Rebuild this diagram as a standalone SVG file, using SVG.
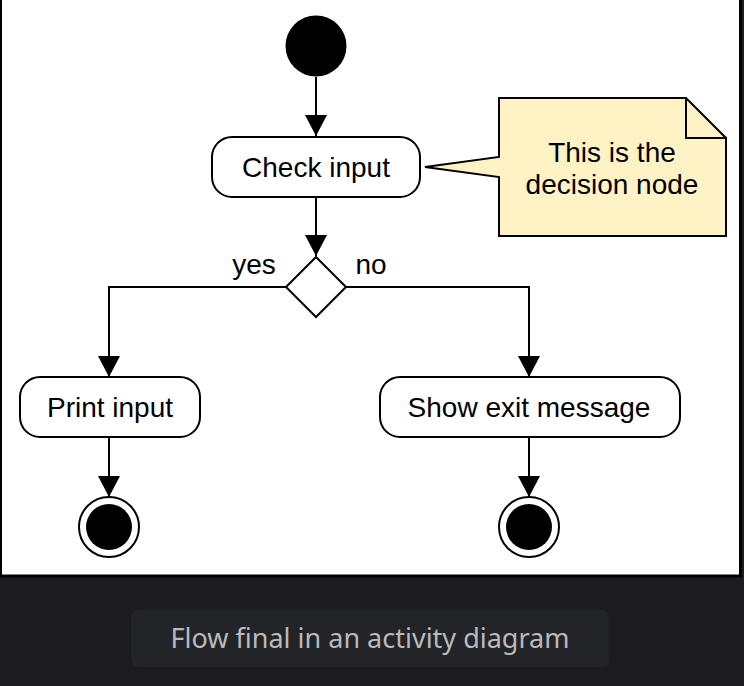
<svg xmlns="http://www.w3.org/2000/svg" width="744" height="686" viewBox="0 0 744 686">
<style>
.lbl{font-family:"Liberation Sans",Arial,sans-serif;font-size:28px;fill:#000;text-anchor:middle}
.box{fill:#fff;stroke:#000;stroke-width:2}
.edge{fill:none;stroke:#000;stroke-width:2}
.cap{font-family:"Noto Sans","Open Sans",sans-serif;font-size:27px;fill:#b9babd;text-anchor:middle}
</style>
<defs>
<marker id="arr" markerWidth="22" markerHeight="22" refX="21" refY="11" orient="auto" markerUnits="userSpaceOnUse">
<path d="M0,0 L21,11 L0,22 Z" fill="#000"/>
</marker>
</defs>
<rect x="0" y="0" width="744" height="686" fill="#1c1c1e"/>
<rect x="0.5" y="-2" width="740" height="578" fill="#fff" stroke="#000" stroke-width="3"/>
<g id="connectors">
<path class="edge" d="M316,77 L316,136" marker-end="url(#arr)"/>
<path class="edge" d="M316,197 L316,256" marker-end="url(#arr)"/>
<path class="edge" d="M286,287 L109,287 L109,377" marker-end="url(#arr)"/>
<path class="edge" d="M346,287 L529,287 L529,377" marker-end="url(#arr)"/>
<path class="edge" d="M109,437 L109,497" marker-end="url(#arr)"/>
<path class="edge" d="M529,437 L529,497" marker-end="url(#arr)"/>
<text class="lbl" x="254" y="274">yes</text>
<text class="lbl" x="371" y="274">no</text>
</g>
<g id="start">
<circle cx="316" cy="46" r="30.5" fill="#000"/>
</g>
<g id="check">
<rect class="box" x="212" y="137" width="208" height="60" rx="20"/>
<text class="lbl" x="316" y="177">Check input</text>
</g>
<g id="note">
<path d="M499,98 L686,98 L726,138 L726,236 L499,236 L499,177 L425,167 L499,157 Z" fill="#fff2c4" stroke="#000" stroke-width="2"/>
<path d="M686,98 L686,138 L726,138" fill="none" stroke="#000" stroke-width="2"/>
<text class="lbl" x="612" y="162">This is the</text>
<text class="lbl" x="612" y="194">decision node</text>
</g>
<g id="decision">
<path d="M316,257 L346,287 L316,317 L286,287 Z" fill="#fff" stroke="#000" stroke-width="2"/>
</g>
<g id="print">
<rect class="box" x="20" y="377" width="180" height="60" rx="20"/>
<text class="lbl" x="110" y="417">Print input</text>
</g>
<g id="exitmsg">
<rect class="box" x="380" y="377" width="300" height="60" rx="20"/>
<text class="lbl" x="529" y="417">Show exit message</text>
</g>
<g id="final1">
<circle cx="109" cy="527" r="30" fill="#fff" stroke="#000" stroke-width="2"/>
<circle cx="109" cy="527" r="23" fill="#000"/>
</g>
<g id="final2">
<circle cx="529" cy="527" r="30" fill="#fff" stroke="#000" stroke-width="2"/>
<circle cx="529" cy="527" r="23" fill="#000"/>
</g>
<g id="caption">
<rect x="131" y="610" width="478" height="57" rx="7" fill="#232427"/>
<text class="cap" x="370" y="648">Flow final in an activity diagram</text>
</g>
</svg>
